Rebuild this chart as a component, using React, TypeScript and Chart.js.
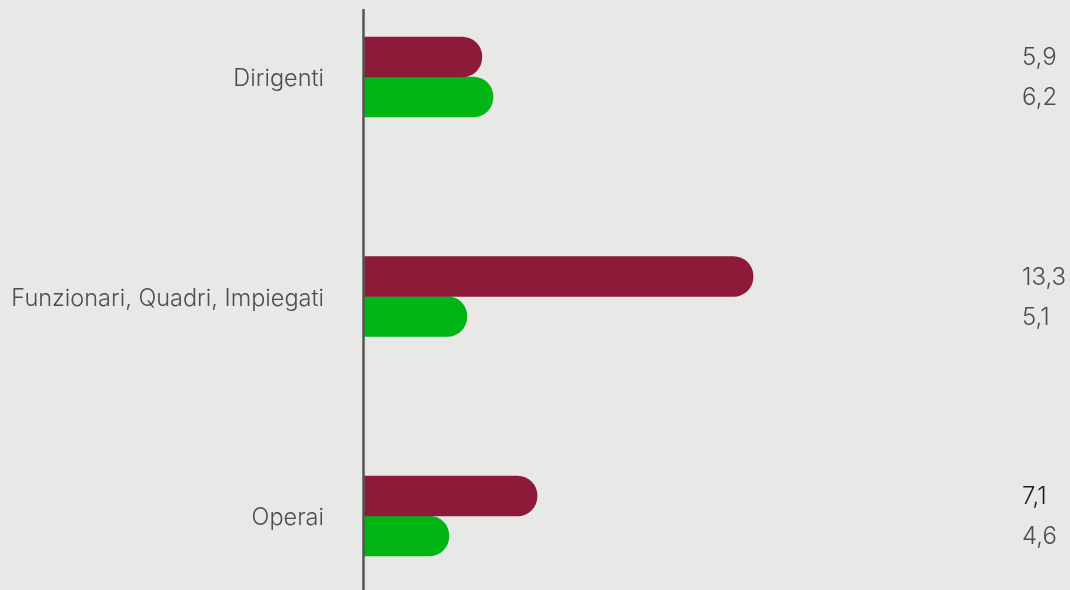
import React, { useEffect, useRef } from "react";
import { Chart, registerables } from "chart.js";

Chart.register(...registerables);

// Categories (y axis)
const categories: string[] = ["Dirigenti", "Funzionari, Quadri, Impiegati", "Operai"];

// Printed values for each series
const seriesAValues: number[] = [5.9, 13.3, 7.1];
const seriesBValues: number[] = [6.2, 5.1, 4.6];

// Bar lengths as drawn in the picture (display units)
const seriesABars: number[] = [3.93, 12.97, 5.77];
const seriesBBars: number[] = [4.3, 3.43, 2.83];

const BG = "#e8e8e6";
const MAROON = "#8e1a3a";
const GREEN = "#00b614";
const TEXT = "#4d4d4d";

const fmt = (v: number) => v.toFixed(1).replace(".", ",");

export default function App() {
  const ref = useRef<HTMLCanvasElement | null>(null);

  useEffect(() => {
    document.body.style.margin = "0";
    document.body.style.background = BG;
    const canvas = ref.current;
    if (!canvas) return;

    const printed = [seriesAValues, seriesBValues];

    const axisLine = {
      id: "axisLine",
      afterDatasetsDraw(chart: any) {
        const ctx = chart.ctx;
        const x = chart.scales.x.getPixelForValue(0);
        ctx.save();
        ctx.strokeStyle = "#555555";
        ctx.lineWidth = 2.5;
        ctx.beginPath();
        ctx.moveTo(x - 0.5, 9);
        ctx.lineTo(x - 0.5, chart.height);
        ctx.stroke();
        ctx.restore();
      },
    };

    const valueLabels = {
      id: "valueLabels",
      afterDatasetsDraw(chart: any) {
        const ctx = chart.ctx;
        ctx.save();
        ctx.font = "300 24px Inter";
        ctx.textAlign = "left";
        ctx.textBaseline = "middle";
        chart.data.datasets.forEach((_ds: any, di: number) => {
          const meta = chart.getDatasetMeta(di);
          meta.data.forEach((bar: any, i: number) => {
            ctx.fillStyle = di === 0 && i === 2 ? "#1e1e1e" : TEXT;
            ctx.fillText(fmt(printed[di][i]), 1022, bar.y + 1);
          });
        });
        ctx.restore();
      },
    };

    const chart = new Chart(canvas, {
      type: "bar",
      data: {
        labels: categories,
        datasets: [
          {
            label: "A",
            data: seriesABars,
            backgroundColor: MAROON,
            barThickness: 40,
            borderRadius: 20,
            borderSkipped: "start",
            clip: false as any,
          },
          {
            label: "B",
            data: seriesBBars,
            backgroundColor: GREEN,
            barThickness: 40,
            borderRadius: 20,
            borderSkipped: "start",
            clip: false as any,
          },
        ],
      },
      options: {
        indexAxis: "y",
        animation: false,
        responsive: false,
        maintainAspectRatio: false,
        layout: { padding: { top: 77, bottom: 74, left: 0, right: 106 } },
        plugins: {
          legend: { display: false },
          tooltip: { enabled: false },
        },
        scales: {
          x: { display: false, min: 0, max: 20 },
          y: {
            offset: false,
            grid: { display: false, drawTicks: false },
            border: { display: false },
            ticks: {
              padding: 40,
              labelOffset: 2,
              color: TEXT,
              font: { family: "Inter", size: 23.5, weight: "300" as any },
            },
            afterFit(scale: any) {
              scale.width = 364;
            },
          },
        },
      },
      plugins: [axisLine, valueLabels],
    });

    return () => chart.destroy();
  }, []);

  return (
    <div style={{ position: "fixed", left: 0, top: 0, width: 1070, height: 590, background: BG }}>
      <canvas ref={ref} width={1070} height={590} style={{ display: "block", width: 1070, height: 590 }} />
    </div>
  );
}
